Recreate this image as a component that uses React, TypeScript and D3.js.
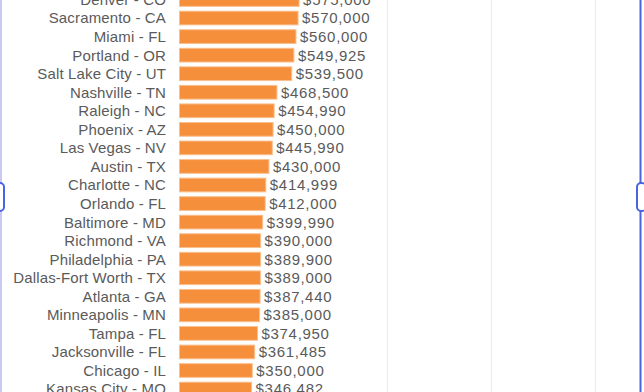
import React from "react";
import * as d3 from "d3";

const cities = [
  "Denver - CO", "Sacramento - CA", "Miami - FL", "Portland - OR", "Salt Lake City - UT",
  "Nashville - TN", "Raleigh - NC", "Phoenix - AZ", "Las Vegas - NV", "Austin - TX",
  "Charlotte - NC", "Orlando - FL", "Baltimore - MD", "Richmond - VA", "Philadelphia - PA",
  "Dallas-Fort Worth - TX", "Atlanta - GA", "Minneapolis - MN", "Tampa - FL",
  "Jacksonville - FL", "Chicago - IL", "Kansas City - MO",
];
const prices = [
  575000, 570000, 560000, 549925, 539500, 468500, 454990, 450000, 445990, 430000,
  414999, 412000, 399990, 390000, 389900, 389000, 387440, 385000, 374950, 361485,
  350000, 346482,
];
const gridTicks = [1000000, 1500000, 2000000];

const W = 644;
const H = 392;
const STEP = 18.55;

export default function App() {
  const y0 = -0.5 - STEP / 2;
  const y = d3.scaleBand<string>()
    .domain(cities)
    .range([y0, y0 + STEP * cities.length])
    .paddingInner(0.26)
    .paddingOuter(0.13);
  const x = d3.scaleLinear().domain([0, 2000000]).range([179.5, 595.5]);
  const fmt = d3.format("$,.0f");
  const font = "'Liberation Sans', Arial, sans-serif";

  return (
    <svg width={W} height={H} style={{ position: "fixed", left: 0, top: 0, background: "#fff" }}>
      <rect x={0} y={0} width={W} height={H} fill="#fff" />
      {gridTicks.map((t) => (
        <line key={t} x1={x(t)} x2={x(t)} y1={0} y2={H} stroke="#ededed" strokeWidth={1.2} />
      ))}
      {cities.map((c, i) => {
        const by = y(c)!;
        const bh = y.bandwidth();
        const cy = by + bh / 2;
        return (
          <g key={c}>
            <text x={166} y={cy} dy="0.36em" textAnchor="end" fontFamily={font} fontSize={15} letterSpacing={0.15} fill="#5a5a5a">
              {c}
            </text>
            <rect x={x(0)} y={by} width={x(prices[i]) - x(0)} height={bh} fill="#f58f3b" stroke="#f9c08f" strokeWidth={1} />
            <text x={x(prices[i]) + 4} y={cy} dy="0.36em" fontFamily={font} fontSize={15} letterSpacing={0.7} fill="#5a5a5a">
              {fmt(prices[i])}
            </text>
          </g>
        );
      })}
      <line x1={1} x2={1} y1={0} y2={H} stroke="#c9c9f3" strokeWidth={2} />
      <line x1={640.5} x2={640.5} y1={0} y2={H} stroke="#4a63e0" strokeWidth={2} />
      <rect x={-5} y={183} width={9} height={28} rx={4} fill="#fff" stroke="#4a63e0" strokeWidth={2} />
      <rect x={637} y={183} width={9} height={28} rx={4} fill="#fff" stroke="#4a63e0" strokeWidth={2} />
    </svg>
  );
}
